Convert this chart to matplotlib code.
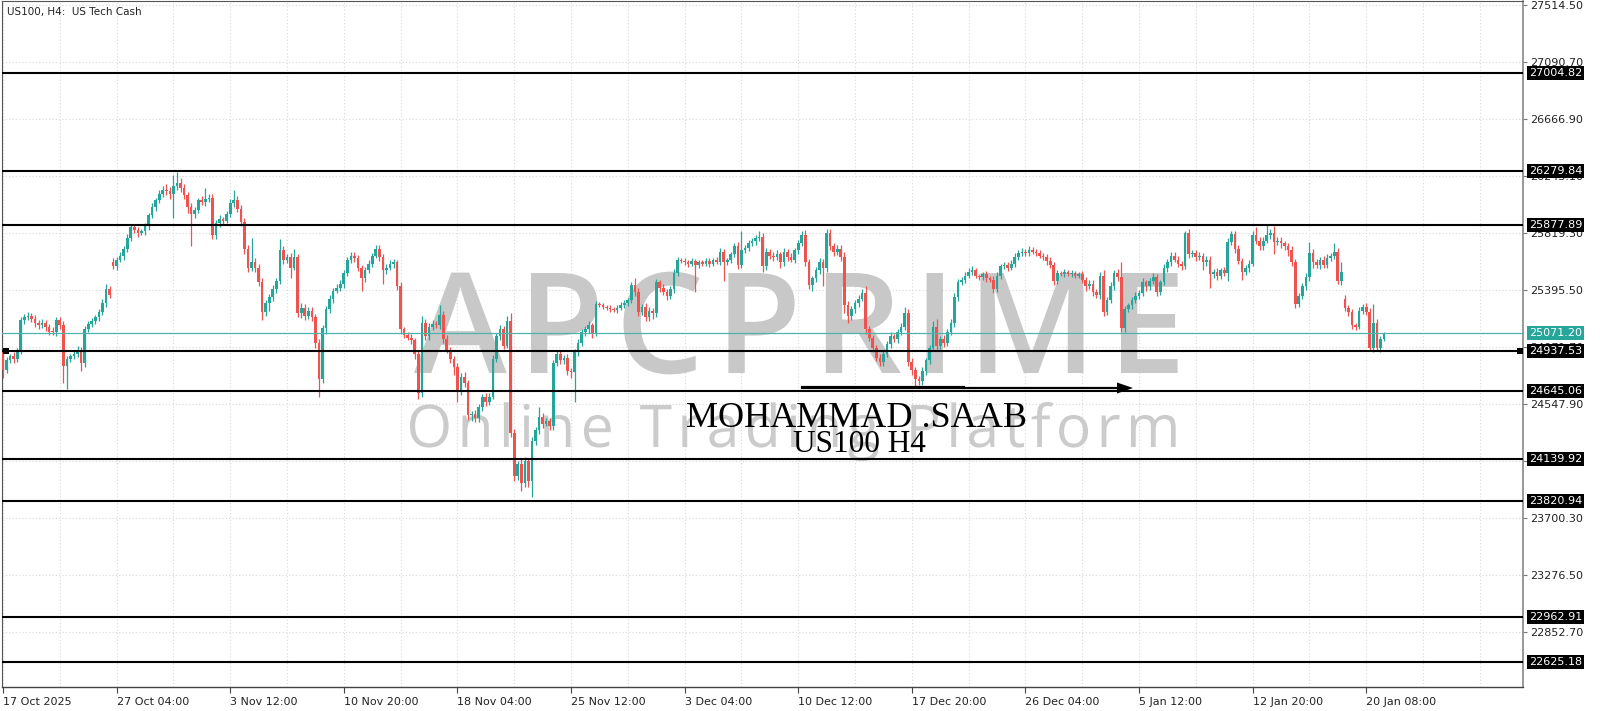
import numpy as np
import matplotlib.pyplot as plt
from matplotlib.patches import Rectangle, PathPatch, Polygon
from matplotlib.lines import Line2D
from matplotlib.path import Path
from matplotlib.textpath import TextPath, TextToPath
from matplotlib.font_manager import FontProperties
from matplotlib.transforms import Affine2D, blended_transform_factory

# ---- data: US100 H4, 390 bars (17 Oct 2025 -> 21 Jan 2026) ----
closes = [
    24800, 24870, 24900, 24880, 24940, 25170, 25190, 25200, 25180, 25150,
    25130, 25145, 25120, 25085, 25080, 25170, 25130, 24830, 24880, 24900,
    24920, 24950, 24850, 25100, 25140, 25160, 25190, 25230, 25300, 25400,
    25360, 25570, 25620, 25650, 25700, 25780, 25860, 25840, 25820, 25830,
    25870, 25950, 26010, 26060, 26110, 26140, 26130, 26110, 26170, 26190,
    26150, 26100, 26010, 25960, 25990, 26060, 26050, 26070, 26080, 25800,
    25890, 25920, 25910, 25960, 26040, 26060, 26000, 25900, 25700, 25560,
    25600, 25560, 25450, 25230, 25300, 25340, 25400, 25460, 25690, 25620,
    25640, 25560, 25640, 25225, 25260, 25200, 25240, 25190, 25000, 24730,
    25110, 25250, 25330, 25390, 25410, 25440, 25520, 25620, 25650, 25630,
    25560, 25480, 25540, 25590, 25650, 25700, 25640, 25540, 25560, 25590,
    25600, 25420, 25100, 25060, 25040, 25020, 24920, 24630, 25150, 25050,
    25120, 25140, 25130, 25210, 25030, 24950, 24880, 24820, 24640, 24750,
    24700, 24460, 24470, 24440, 24520, 24600, 24560, 24600, 24880, 25050,
    25100, 24980, 25160, 24330, 24010, 24100, 23960, 24120, 23970, 24270,
    24350, 24450, 24400, 24420, 24380, 24850, 24920, 24870, 24890, 24790,
    24780, 24930, 25000, 25080, 25100, 25130, 25070, 25290, 25280, 25270,
    25260, 25250, 25245, 25260, 25280, 25300, 25320, 25430, 25380, 25230,
    25270, 25190, 25240, 25220, 25450, 25410, 25380, 25350, 25400, 25520,
    25620, 25610, 25600, 25590, 25610, 25580, 25600, 25590, 25610, 25590,
    25620, 25600, 25680, 25600, 25620, 25660, 25720, 25580, 25690, 25710,
    25740, 25760, 25780, 25790, 25570, 25680, 25650, 25640, 25660, 25600,
    25680, 25640, 25620, 25690, 25740, 25800, 25600, 25430, 25480, 25540,
    25600, 25560, 25820, 25720, 25680, 25700, 25640, 25280, 25200, 25250,
    25300, 25330, 25370, 25100, 25040, 24960, 24890, 24860, 24920, 24990,
    25050, 25030, 25080, 25120, 25220, 24860, 24800, 24730, 24720, 24790,
    24870, 24960, 25120, 24980, 25030, 25000, 25080, 25150, 25340, 25450,
    25470, 25500, 25530, 25540, 25500, 25490, 25510, 25480, 25470, 25400,
    25500, 25570, 25580, 25560, 25590, 25640, 25670, 25680, 25670, 25690,
    25680, 25670, 25650, 25640, 25610, 25580, 25460, 25520, 25510, 25530,
    25510, 25520, 25500, 25510, 25470, 25420, 25440, 25380, 25360, 25500,
    25230, 25320, 25420, 25520, 25490, 25110, 25250, 25280, 25320, 25350,
    25370, 25450, 25420, 25460, 25490, 25380, 25450, 25560, 25600, 25650,
    25620, 25590, 25570, 25820, 25660, 25670, 25640, 25650, 25600, 25620,
    25510, 25530, 25500, 25540, 25520, 25750, 25810, 25700, 25610, 25530,
    25560, 25590, 25800, 25760, 25720, 25760, 25800, 25820, 25750, 25760,
    25740, 25720, 25690, 25600, 25290, 25350, 25420, 25490, 25670, 25600,
    25580, 25620, 25580, 25630, 25650, 25680, 25460, 25530, 25260, 25230,
    25130, 25120, 25240, 25270, 25230, 24960, 25150, 24960, 25030, 25071.2,
]
# points above the body top / below the body bottom
wick_hi = [
    20, 25, 20, 30, 25, 20, 25, 30, 20, 25,
    20, 30, 25, 20, 30, 25, 20, 30, 25, 20,
    25, 30, 20, 25, 20, 25, 20, 25, 30, 40,
    25, 30, 20, 25, 20, 30, 25, 20, 25, 20,
    25, 20, 30, 20, 25, 30, 40, 30, 80, 80,
    40, 30, 25, 30, 25, 20, 30, 80, 25, 30,
    25, 30, 20, 25, 30, 80, 30, 25, 30, 25,
    180, 30, 25, 30, 20, 25, 30, 25, 80, 30,
    25, 30, 60, 20, 40, 30, 25, 30, 25, 30,
    20, 25, 30, 20, 25, 30, 25, 20, 30, 25,
    25, 20, 25, 30, 20, 30, 25, 20, 30, 25,
    25, 20, 30, 20, 25, 30, 20, 25, 50, 30,
    25, 30, 20, 70, 25, 30, 20, 25, 30, 25,
    30, 25, 20, 30, 25, 20, 30, 25, 30, 25,
    30, 25, 40, 60, 30, 25, 40, 30, 25, 30,
    25, 70, 30, 25, 20, 25, 30, 25, 20, 25,
    20, 25, 30, 20, 25, 30, 20, 25, 15, 20,
    15, 20, 15, 20, 25, 20, 15, 25, 50, 30,
    20, 30, 25, 20, 25, 20, 25, 20, 25, 30,
    20, 15, 20, 15, 20, 15, 20, 15, 20, 25,
    15, 20, 25, 20, 15, 20, 25, 30, 140, 20,
    25, 20, 25, 40, 25, 30, 20, 25, 30, 20,
    25, 20, 30, 20, 25, 30, 40, 25, 20, 25,
    30, 25, 25, 30, 20, 25, 30, 40, 30, 25,
    20, 25, 30, 50, 25, 20, 25, 30, 20, 25,
    30, 20, 25, 30, 50, 30, 25, 20, 25, 30,
    20, 25, 40, 60, 25, 30, 20, 25, 30, 25,
    20, 25, 30, 30, 20, 15, 20, 25, 20, 25,
    30, 20, 25, 20, 25, 30, 20, 25, 20, 30,
    25, 20, 25, 20, 25, 30, 25, 20, 15, 20,
    15, 20, 15, 20, 25, 20, 30, 25, 20, 30,
    40, 25, 30, 25, 30, 110, 25, 20, 25, 30,
    25, 30, 20, 25, 30, 25, 20, 30, 25, 30,
    25, 30, 20, 10, 25, 20, 25, 30, 20, 25,
    30, 20, 25, 20, 25, 30, 20, 25, 30, 25,
    20, 25, 30, 60, 25, 30, 85, 25, 50, 30,
    25, 20, 25, 30, 25, 20, 25, 30, 80, 30,
    25, 20, 25, 30, 20, 60, 25, 70, 25, 20,
    25, 20, 25, 20, 25, 30, 140, 25, 20, 10,
]
wick_lo = [
    60, 25, 20, 30, 20, 25, 30, 20, 25, 30,
    25, 20, 30, 25, 20, 30, 25, 130, 170, 25,
    20, 25, 60, 30, 20, 25, 20, 25, 20, 30,
    25, 20, 25, 20, 30, 25, 20, 25, 30, 20,
    25, 30, 20, 25, 20, 25, 30, 40, 180, 30,
    25, 30, 40, 240, 30, 25, 20, 30, 25, 30,
    30, 25, 30, 20, 25, 30, 25, 30, 40, 30,
    25, 30, 30, 60, 30, 60, 25, 30, 20, 30,
    25, 80, 20, 30, 40, 30, 25, 30, 40, 130,
    30, 40, 25, 30, 20, 25, 30, 20, 25, 30,
    25, 95, 30, 20, 25, 20, 30, 100, 25, 20,
    30, 25, 30, 25, 20, 30, 40, 50, 30, 25,
    30, 25, 20, 25, 30, 25, 30, 60, 80, 30,
    25, 30, 40, 30, 25, 30, 30, 25, 20, 25,
    30, 25, 20, 30, 40, 30, 60, 30, 40, 120,
    30, 25, 30, 20, 30, 25, 20, 30, 25, 30,
    40, 220, 25, 20, 30, 25, 30, 20, 15, 20,
    15, 20, 15, 20, 15, 20, 25, 20, 30, 30,
    25, 30, 25, 40, 25, 30, 25, 30, 20, 25,
    20, 15, 20, 25, 15, 200, 20, 15, 20, 25,
    20, 15, 20, 140, 20, 25, 20, 30, 25, 20,
    25, 20, 30, 20, 40, 30, 25, 30, 20, 40,
    25, 30, 20, 25, 30, 20, 30, 30, 40, 30,
    25, 140, 30, 25, 30, 25, 30, 60, 50, 30,
    25, 30, 20, 30, 25, 30, 25, 30, 30, 25,
    30, 25, 30, 20, 25, 30, 40, 50, 30, 30,
    25, 30, 20, 30, 25, 30, 25, 20, 30, 25,
    20, 25, 20, 25, 20, 25, 20, 25, 20, 30,
    20, 25, 20, 25, 20, 25, 20, 25, 20, 25,
    20, 25, 20, 25, 30, 25, 30, 20, 15, 20,
    15, 20, 15, 20, 25, 30, 20, 30, 25, 30,
    30, 25, 20, 25, 30, 30, 25, 20, 25, 20,
    25, 20, 30, 25, 20, 30, 25, 20, 30, 25,
    20, 25, 30, 20, 25, 20, 30, 25, 60, 30,
    100, 25, 30, 25, 20, 60, 25, 30, 25, 60,
    25, 30, 20, 25, 30, 25, 20, 30, 90, 25,
    30, 25, 40, 30, 30, 25, 20, 25, 30, 40,
    25, 30, 20, 25, 20, 25, 20, 30, 25, 30,
    30, 25, 20, 25, 20, 20, 25, 20, 25, 15,
]
# bars that open away from the previous close (first bar, weekend gaps)
gap_opens = {0: 24930, 31: 25600, 378: 25330}

levels = [27004.82, 26279.84, 25877.89, 24937.53, 24645.06,
          24139.92, 23820.94, 22962.91, 22625.18]
last_price = 25071.20
price_ticks = [27514.50, 27090.70, 26666.90, 26243.10, 25819.30, 25395.50,
               24971.70, 24547.90, 24124.10, 23700.30, 23276.50, 22852.70]
time_labels = ['17 Oct 2025', '27 Oct 04:00', '3 Nov 12:00', '10 Nov 20:00',
               '18 Nov 04:00', '25 Nov 12:00', '3 Dec 04:00', '10 Dec 12:00',
               '17 Dec 20:00', '26 Dec 04:00', '5 Jan 12:00', '12 Jan 20:00',
               '20 Jan 08:00']

# ---- pixel geometry of the screenshot ----
W, H = 1600, 711
left_px, right_px, top_px, bottom_px = 2, 1523, 1, 687
bar_px, bar0_px = 3.55, 3
pts_per_px = 7.441


def price_at(y):
    return 27514.5 - (y - 5) * pts_per_px


def fpx(x, y):
    return x / W, 1 - y / H


UP, DOWN = '#26a69a', '#ef5350'
TEAL = '#26a69a'

fig = plt.figure(figsize=(W / 100, H / 100), dpi=100)
fig.patch.set_facecolor('white')
ax = fig.add_axes([left_px / W, (H - bottom_px) / H,
                   (right_px - left_px) / W, (bottom_px - top_px) / H])
ax.set_facecolor('white')

c = np.array(closes, dtype=float)
o = np.r_[np.nan, c[:-1]]
for k, v in gap_opens.items():
    o[k] = v
hi = np.maximum(o, c) + np.array(wick_hi)
lo = np.minimum(o, c) - np.array(wick_lo)
idx = np.arange(len(c))
cols = np.where(c >= o, UP, DOWN)

ax.vlines(idx, lo, hi, colors=cols, lw=0.9, zorder=4)
ax.bar(idx, np.maximum(np.abs(c - o), 6), bottom=np.minimum(o, c),
       width=0.74, color=cols, linewidth=0, zorder=4)

ax.set_xlim((left_px - bar0_px) / bar_px, (right_px - bar0_px) / bar_px)
ax.set_ylim(price_at(bottom_px), price_at(top_px))

# dotted grid
for gx in range(0, 430, 16):
    ax.axvline(gx, color='#d9d9d9', lw=0.8, ls=(0, (1, 2)), zorder=0.5)
for gy in price_ticks:
    ax.axhline(gy, color='#d9d9d9', lw=0.8, ls=(0, (1, 2)), zorder=0.5)

# watermark: letters spread out to fill the logo box
t2p = TextToPath()


def logo_text(s, x0, x1, base, cap, prop, color):
    prop = prop.copy()
    prop.set_size(100)
    cap_u = TextPath((0, 0), 'H', prop=prop).get_extents().height
    adv = [t2p.get_text_width_height_descent(ch, prop, ismath=False)[0] for ch in s]
    k = cap / cap_u
    track = ((x1 - x0) / k - sum(adv)) / (len(s) - 1)
    parts, pos = [], 0.0
    for ch, a in zip(s, adv):
        if ch != ' ':
            parts.append(TextPath((pos, 0), ch, prop=prop))
        pos += a + track
    path = Path.make_compound_path(*parts)
    ext = path.get_extents()
    tr = (Affine2D().translate(-ext.x0, 0).scale(k)
          .translate(x0, H - base).scale(1 / W, 1 / H) + fig.transFigure)
    ax.add_artist(PathPatch(path, transform=tr, fc=color, ec='none', zorder=1.5))


logo_text('APCPRIME', 414, 1186, 373, 100,
          FontProperties(family='Open Sans', weight='semibold'), '#c8c8c8')
logo_text('Online Trading Platform', 410, 1184, 447, 42,
          FontProperties(family='Open Sans', weight='normal'), '#cbcbcb')

# support / resistance lines
for lv in levels:
    ax.axhline(lv, color='black', lw=1.5, zorder=5)
ax.axhline(last_price, color='#4db6ac', lw=0.9, zorder=5)

# line anchors
for xa in (3, 1517):
    fig.add_artist(Rectangle(fpx(xa, 354), 6 / W, 6 / H, transform=fig.transFigure,
                             fc='black', ec='none', zorder=6))

# arrow
xa0, ya0 = fpx(802, 387)
xa1, _ = fpx(963, 387)
xa2, ya2 = fpx(1120, 388)
fig.add_artist(Line2D([xa0, xa1], [ya0, ya0], color='black', lw=2.3,
                      transform=fig.transFigure, zorder=6))
fig.add_artist(Line2D([xa1, xa2], [ya2, ya2], color='black', lw=1.6,
                      transform=fig.transFigure, zorder=6))
fig.add_artist(Polygon([fpx(1117, 382.5), fpx(1133, 388), fpx(1117, 393.5)],
                       closed=True, transform=fig.transFigure, fc='black',
                       ec='none', zorder=6))

# price scale
ax.yaxis.tick_right()
ax.set_yticks(price_ticks)
ax.set_yticklabels([f'{t:.2f}' for t in price_ticks])
ax.tick_params(axis='y', length=3, width=0.8, pad=2, labelsize=8,
               colors='#777777', labelcolor='#222222')

tb = blended_transform_factory(ax.transAxes, ax.transData)
lab_x = (1529 - left_px) / (right_px - left_px)
for lv in levels:
    ax.text(lab_x, lv, f'{lv:.2f}', transform=tb, ha='left', va='center',
            fontsize=8, color='white', zorder=10, clip_on=False,
            bbox=dict(boxstyle='square,pad=0.18', fc='black', ec='none'))
ax.text(lab_x, last_price, f'{last_price:.2f}', transform=tb, ha='left',
        va='center', fontsize=8, color='white', zorder=10, clip_on=False,
        bbox=dict(boxstyle='square,pad=0.18', fc=TEAL, ec='none'))

# time scale
ax.set_xticks(range(0, 32 * len(time_labels), 32))
ax.set_xticklabels(time_labels)
for lab in ax.get_xticklabels():
    lab.set_ha('left')
ax.tick_params(axis='x', length=4, width=0.8, pad=3, labelsize=8,
               colors='#444444', labelcolor='#222222')

for side in ('left', 'top'):
    ax.spines[side].set_color('#555555')
    ax.spines[side].set_linewidth(0.8)
ax.spines['right'].set_color('#888888')
ax.spines['right'].set_linewidth(1.2)
ax.spines['bottom'].set_color('#444444')
ax.spines['bottom'].set_linewidth(1.0)

# texts
fig.text(*fpx(7, 12), 'US100, H4:  US Tech Cash', fontsize=7.5, color='#222222',
         va='center', ha='left')
fig.text(*fpx(857, 427), 'MOHAMMAD .SAAB', family='Liberation Serif', fontsize=26,
         color='black', ha='center', va='baseline', zorder=7)
fig.text(*fpx(859, 452), 'US100 H4', family='Liberation Serif', fontsize=22.5,
         color='black', ha='center', va='baseline', zorder=7)

fig.savefig('out.png', dpi=100, facecolor='white')
